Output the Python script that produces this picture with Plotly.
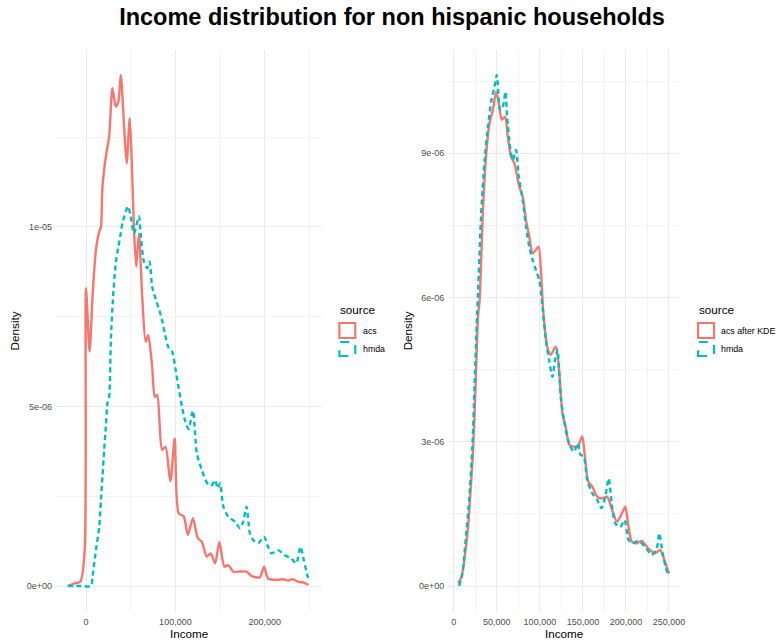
import plotly.graph_objects as go

# ---------------- data ----------------
left_acs_x = [-20400, -13000, -6300, -1500, 0, 4000, 7300, 11100, 14800, 16700, 18400, 22200, 25900,
              29600, 33300, 36200, 38900, 42600, 45500, 48900, 51100, 53700, 56200, 59200, 62900,
              66700, 69600, 74000, 77000, 79600, 85100, 88900, 94400, 99200, 103700, 109200, 114000,
              119600, 125100, 129600, 135100, 139600, 144400, 149200, 154800, 159200, 164800, 170300,
              179600, 185100, 194400, 199200, 203700, 214800, 220400, 225900, 231400, 237000, 244400, 248900]
left_acs_y = [0.0, 0.075, 0.12, 1.0, 8.29, 6.53, 8.06, 9.36, 9.87, 10.0, 11.12, 11.96, 12.52,
              13.86, 13.35, 13.49, 14.23, 12.79, 11.77, 13.03, 11.87, 9.92, 8.89, 9.82, 8.06,
              6.8, 6.99, 6.11, 5.27, 5.32, 3.79, 3.88, 2.91, 4.11, 2.02, 1.95, 1.42,
              1.89, 1.33, 1.23, 0.82, 0.91, 0.63, 1.23, 0.54, 0.58, 0.40, 0.40,
              0.40, 0.28, 0.24, 0.54, 0.21, 0.17, 0.19, 0.15, 0.19, 0.12, 0.09, 0.03]

left_hmda_x = [-20400, -5000, 5500, 7300, 11100, 14800, 16700, 18400, 20300, 22200, 24000, 25900,
               27800, 30300, 33300, 36200, 38900, 40700, 47000, 50000, 53700, 59200, 61100, 64800,
               68500, 71100, 74000, 77800, 81400, 85100, 88100, 92600, 96300, 100000, 103700, 107400,
               111100, 114800, 119600, 124000, 129600, 137000, 140700, 144400, 147400, 150000, 153700,
               159200, 166700, 172200, 175900, 179600, 183300, 187000, 192600, 199200, 203700, 207400,
               214800, 222200, 229600, 235200, 240000, 243700, 248100, 250000]
left_hmda_y = [0.0, 0.0, 0.0, 0.26, 1.0, 1.65, 2.4, 3.04, 3.79, 4.44, 5.09, 5.27,
               6.85, 8.06, 8.99, 9.45, 9.82, 10.1, 10.57, 10.29, 9.82, 10.29, 9.82, 9.03,
               8.85, 9.03, 8.34, 8.0, 7.73, 7.41, 7.04, 6.62, 6.53, 6.06, 5.51, 4.99,
               4.58, 4.37, 4.88, 3.7, 3.23, 2.81, 2.81, 2.95, 2.72, 2.86, 2.21,
               1.93, 1.79, 1.61, 1.79, 2.21, 1.47, 1.28, 1.19, 1.37, 1.09, 0.91,
               1.0, 0.86, 0.77, 0.63, 1.09, 0.72, 0.26, 0.17]

right_acs_x = [5100, 8900, 12700, 16600, 19300, 22400, 25400, 28100, 30000, 33900, 37700, 41500,
               45400, 49200, 52300, 55800, 59600, 62700, 66500, 70400, 76100, 80000, 83900, 87700,
               91600, 95400, 98500, 101200, 103800, 108900, 112700, 118500, 122300, 126200, 130000,
               134600, 143500, 149200, 152300, 156200, 160800, 166600, 172300, 178100, 183900, 189600,
               195300, 199200, 203000, 206900, 212700, 218400, 226100, 233800, 239600, 243400, 247300, 250000]
right_acs_y = [0.056, 0.19, 0.61, 1.23, 1.93, 2.83, 4.22, 5.6, 5.95, 7.82, 9.0, 9.63,
               9.9, 10.28, 10.04, 9.7, 9.76, 9.35, 8.93, 8.79, 8.31, 8.1, 7.61, 7.27,
               6.92, 6.99, 7.06, 6.57, 5.74, 4.95, 4.81, 4.98, 4.49, 3.59, 3.31,
               2.93, 2.9, 3.11, 2.69, 2.17, 2.07, 1.86, 1.82, 1.86, 1.58, 1.34,
               1.51, 1.65, 1.23, 0.92, 0.89, 0.94, 0.78, 0.68, 0.75, 0.61, 0.40, 0.26]

right_hmda_x = [6200, 10000, 13800, 17800, 21600, 24200, 27000, 28100, 32000, 35800, 39700, 43500,
                47300, 50000, 53900, 57000, 60000, 61900, 65400, 68500, 72300, 75400, 80000, 83900,
                87700, 91600, 95400, 99200, 102300, 106900, 110700, 114600, 117600, 120400, 124200,
                128000, 133800, 139500, 144200, 147300, 151100, 155000, 160800, 166600, 171500, 176100,
                179900, 183900, 187700, 193400, 198400, 203000, 207600, 214500, 222200, 229900, 235700,
                238700, 242600, 246100, 249100]
right_hmda_y = [0.0, 0.26, 0.96, 1.79, 2.9, 4.22, 5.6, 6.09, 7.82, 8.86, 9.56, 10.08,
                10.39, 10.63, 9.9, 9.97, 10.28, 9.76, 9.14, 8.86, 9.07, 8.52, 8.03, 7.48,
                7.06, 6.78, 6.57, 6.37, 5.95, 5.12, 4.7, 4.35, 4.7, 4.91, 3.94,
                3.45, 2.97, 2.79, 2.97, 2.73, 2.69, 2.21, 1.93, 1.79, 1.62, 1.86,
                2.24, 1.65, 1.3, 1.23, 1.37, 0.96, 0.89, 0.94, 0.82, 0.65, 0.78,
                1.1, 0.68, 0.4, 0.23]

left_xticks = [0, 100000, 200000]
left_xticklabels = ["0", "100,000", "200,000"]
left_yticks = [0, 5e-06, 1e-05]
left_yticklabels = ["0e+00", "5e-06", "1e-05"]
right_xticks = [0, 50000, 100000, 150000, 200000, 250000]
right_xticklabels = ["0", "50,000", "100,000", "150,000", "200,000", "250,000"]
right_yticks = [0, 3e-06, 6e-06, 9e-06]
right_yticklabels = ["0e+00", "3e-06", "6e-06", "9e-06"]

left_legend_labels = ["acs", "hmda"]
right_legend_labels = ["acs after KDE", "hmda"]
title_text = "Income distribution for non hispanic households"

# ---------------- styling ----------------
RED = "#F8766D"
TEAL = "#00BFC4"
FONT = "Liberation Sans"
W, H = 784, 642
LW = 2.4
DASH = "5px,3.5px"


def px_x(p):
    return p / W


def px_y(p):
    return 1 - p / H


def scale(v):
    return [a * 1e-6 for a in v]


fig = go.Figure()
fig.add_trace(go.Scatter(x=left_acs_x, y=scale(left_acs_y), mode="lines", name="acs",
                         line=dict(color=RED, width=LW, shape="spline", smoothing=0.7),
                         xaxis="x", yaxis="y", showlegend=False))
fig.add_trace(go.Scatter(x=left_hmda_x, y=scale(left_hmda_y), mode="lines", name="hmda",
                         line=dict(color=TEAL, width=LW, dash=DASH, shape="spline", smoothing=0.7),
                         xaxis="x", yaxis="y", showlegend=False))
fig.add_trace(go.Scatter(x=right_acs_x, y=scale(right_acs_y), mode="lines", name="acs after KDE",
                         line=dict(color=RED, width=LW, shape="spline", smoothing=0.7),
                         xaxis="x2", yaxis="y2", showlegend=False))
fig.add_trace(go.Scatter(x=right_hmda_x, y=scale(right_hmda_y), mode="lines", name="hmda",
                         line=dict(color=TEAL, width=LW, dash=DASH, shape="spline", smoothing=0.7),
                         xaxis="x2", yaxis="y2", showlegend=False))

TOP, BOT = 49.5, 611.5
grid_major = "#EBEBEB"
grid_minor = "#F3F3F3"
tickfont = dict(family=FONT, size=9, color="#4D4D4D")

common = dict(showline=False, zeroline=False, ticks="", showgrid=True,
              gridcolor=grid_major, gridwidth=1.1, tickfont=tickfont, ticklabelstandoff=3)

fig.update_layout(
    width=W, height=H,
    margin=dict(l=0, r=0, t=0, b=0),
    paper_bgcolor="white", plot_bgcolor="white",
    font=dict(family=FONT, color="black"),
    title=dict(text="<b>" + title_text + "</b>", x=0.5, xanchor="center",
               y=px_y(17), yanchor="middle", font=dict(family=FONT, size=23.5, color="black")),
    xaxis=dict(domain=[px_x(56.5), px_x(324)], range=[-33500, 263500], anchor="y",
               tickvals=left_xticks, ticktext=left_xticklabels,
               minor=dict(tickvals=[-50000, 50000, 150000, 250000], showgrid=True,
                          gridcolor=grid_minor, gridwidth=0.6, ticks=""), **common),
    yaxis=dict(domain=[px_y(BOT), px_y(TOP)], range=[-0.71e-6, 14.94e-6], anchor="x",
               tickvals=left_yticks, ticktext=left_yticklabels,
               minor=dict(tickvals=[2.5e-6, 7.5e-6, 12.5e-6], showgrid=True,
                          gridcolor=grid_minor, gridwidth=0.6, ticks=""), **common),
    xaxis2=dict(domain=[px_x(451.7), px_x(684.3)], range=[-6460, 261700], anchor="y2",
                tickvals=right_xticks, ticktext=right_xticklabels,
                minor=dict(tickvals=[25000, 75000, 125000, 175000, 225000], showgrid=True,
                           gridcolor=grid_minor, gridwidth=0.6, ticks=""), **common),
    yaxis2=dict(domain=[px_y(BOT), px_y(TOP)], range=[-0.53e-6, 11.16e-6], anchor="x2",
                tickvals=right_yticks, ticktext=right_yticklabels,
                minor=dict(tickvals=[1.5e-6, 4.5e-6, 7.5e-6, 10.5e-6], showgrid=True,
                           gridcolor=grid_minor, gridwidth=0.6, ticks=""), **common),
)

annotations = []
shapes = []
title_font = dict(family=FONT, size=11.7, color="black")

# axis titles
for cx in (190, 568):
    annotations.append(dict(text="Income", x=px_x(cx), y=px_y(633), xref="paper", yref="paper",
                            xanchor="center", yanchor="middle", showarrow=False, font=title_font))
for cx in (15, 411):
    annotations.append(dict(text="Density", x=px_x(cx), y=px_y(330.5), xref="paper", yref="paper",
                            xanchor="center", yanchor="middle", showarrow=False, textangle=-90,
                            font=title_font))


# legends (drawn as keys like ggplot's outlined squares)
def add_legend(x0, labels):
    annotations.append(dict(text="source", x=px_x(x0), y=px_y(310), xref="paper", yref="paper",
                            xanchor="left", yanchor="middle", showarrow=False, font=title_font))
    rows = [(322, 339, RED, "solid"), (341, 357, TEAL, "dash")]
    for (ya, yb, col, dash), lab in zip(rows, labels):
        shapes.append(dict(type="rect", xref="paper", yref="paper",
                           x0=px_x(x0 + 1.5), x1=px_x(x0 + 17.5), y0=px_y(yb - 1), y1=px_y(ya + 1),
                           line=dict(color=col, width=2.2, dash=dash), fillcolor="rgba(0,0,0,0)"))
        annotations.append(dict(text=lab, x=px_x(x0 + 23), y=px_y((ya + yb) / 2), xref="paper",
                                yref="paper", xanchor="left", yanchor="middle", showarrow=False,
                                font=dict(family=FONT, size=8.8, color="black")))


add_legend(340.5, left_legend_labels)
add_legend(702, right_legend_labels)

fig.update_layout(annotations=annotations, shapes=shapes)
fig.write_html("out.html", config={"displayModeBar": False},
               post_script="document.body.style.margin='0';document.body.style.padding='0';")
